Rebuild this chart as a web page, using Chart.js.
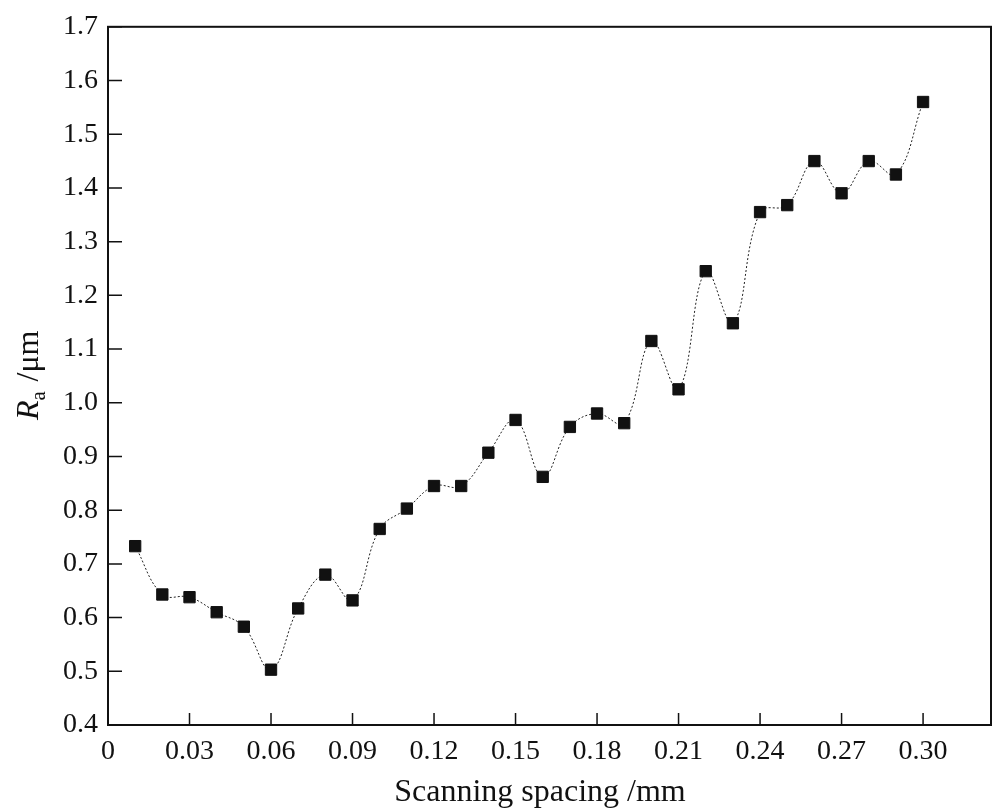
<!DOCTYPE html>
<html>
<head>
<meta charset="utf-8">
<script src="https://cdn.jsdelivr.net/npm/chart.js@4"></script>
<style>
  body { margin: 0; background: #fff; }
  #wrap { width: 1000px; height: 812px; }
</style>
</head>
<body>
<div id="wrap"><canvas id="myChart"></canvas></div>
<script>
// scanning spacing (mm) and roughness Ra (um)
const spacing = [0.01, 0.02, 0.03, 0.04, 0.05, 0.06, 0.07, 0.08, 0.09, 0.10,
  0.11, 0.12, 0.13, 0.14, 0.15, 0.16, 0.17, 0.18, 0.19, 0.20,
  0.21, 0.22, 0.23, 0.24, 0.25, 0.26, 0.27, 0.28, 0.29, 0.30]
const ra = [0.733, 0.643, 0.638, 0.610, 0.583, 0.503, 0.617, 0.680, 0.632, 0.765,
  0.803, 0.845, 0.845, 0.907, 0.968, 0.862, 0.955, 0.980, 0.962, 1.115,
  1.025, 1.245, 1.148, 1.355, 1.368, 1.450, 1.390, 1.450, 1.425, 1.560]
const xTicks = [0, 0.03, 0.06, 0.09, 0.12, 0.15, 0.18, 0.21, 0.24, 0.27, 0.30]

const serif = '"Liberation Serif", "DejaVu Serif", serif'
Chart.defaults.font.family = serif
Chart.defaults.color = '#111'

// frame, inward ticks, axis titles (Ra needs a subscript)
const titles = {
  id: 'titles',
  afterDraw(chart) {
    const c = chart.ctx
    const a = chart.chartArea
    const xs = chart.scales.x, ys = chart.scales.y
    c.save()
    c.strokeStyle = '#111'
    c.lineWidth = 2
    c.strokeRect(a.left, a.top, a.right - a.left, a.bottom - a.top)
    c.lineWidth = 1.5
    c.beginPath()
    xTicks.forEach(v => {
      const px = xs.getPixelForValue(v)
      c.moveTo(px, a.bottom); c.lineTo(px, a.bottom - 12)
    })
    ys.ticks.forEach(t => {
      const py = ys.getPixelForValue(t.value)
      c.moveTo(a.left, py); c.lineTo(a.left + 14, py)
    })
    c.stroke()
    c.fillStyle = '#111'
    c.font = '32px ' + serif
    c.textAlign = 'center'
    c.textBaseline = 'middle'
    c.fillText('Scanning spacing /mm', 540, 793)
    c.translate(30, 370)
    c.rotate(-Math.PI / 2)
    c.textAlign = 'left'
    c.font = 'italic 32px ' + serif
    c.fillText('R', -50, 0)
    const w = c.measureText('R').width
    c.font = '21px ' + serif
    c.fillText('a', -50 + w, 9)
    c.font = '32px ' + serif
    c.fillText(' /μm', -50 + w + 11, 0)
    c.restore()
  }
}

const ctx = document.getElementById('myChart')
new Chart(ctx, {
  type: 'line',
  data: {
    datasets: [{
      data: spacing.map((x, i) => ({ x: x, y: ra[i] })),
      borderColor: '#222',
      borderWidth: 1,
      borderDash: [2, 2],
      tension: 0.4,
      pointStyle: 'rect',
      pointRadius: 8,
      pointBackgroundColor: '#111',
      pointBorderColor: '#111'
    }]
  },
  options: {
    responsive: true,
    maintainAspectRatio: false,
    animation: false,
    layout: { padding: { top: 15, right: 9, left: 0, bottom: 0 } },
    plugins: { legend: { display: false }, tooltip: { enabled: false } },
    scales: {
      x: {
        type: 'linear',
        min: 0,
        max: 0.325,
        afterFit(s) { s.height = 87 },
        afterBuildTicks(s) { s.ticks = xTicks.map(v => ({ value: v })) },
        grid: { display: false, drawTicks: false },
        border: { display: false },
        ticks: {
          font: { size: 28 },
          padding: 10,
          maxRotation: 0,
          callback: v => v === 0 ? '0' : v.toFixed(2)
        }
      },
      y: {
        min: 0.4,
        max: 1.7,
        afterFit(s) { s.width = 108 },
        grid: { display: false, drawTicks: false },
        border: { display: false },
        ticks: {
          stepSize: 0.1,
          font: { size: 28 },
          padding: 10,
          callback: v => v.toFixed(1)
        }
      }
    }
  },
  plugins: [titles]
})
</script>
</body>
</html>
